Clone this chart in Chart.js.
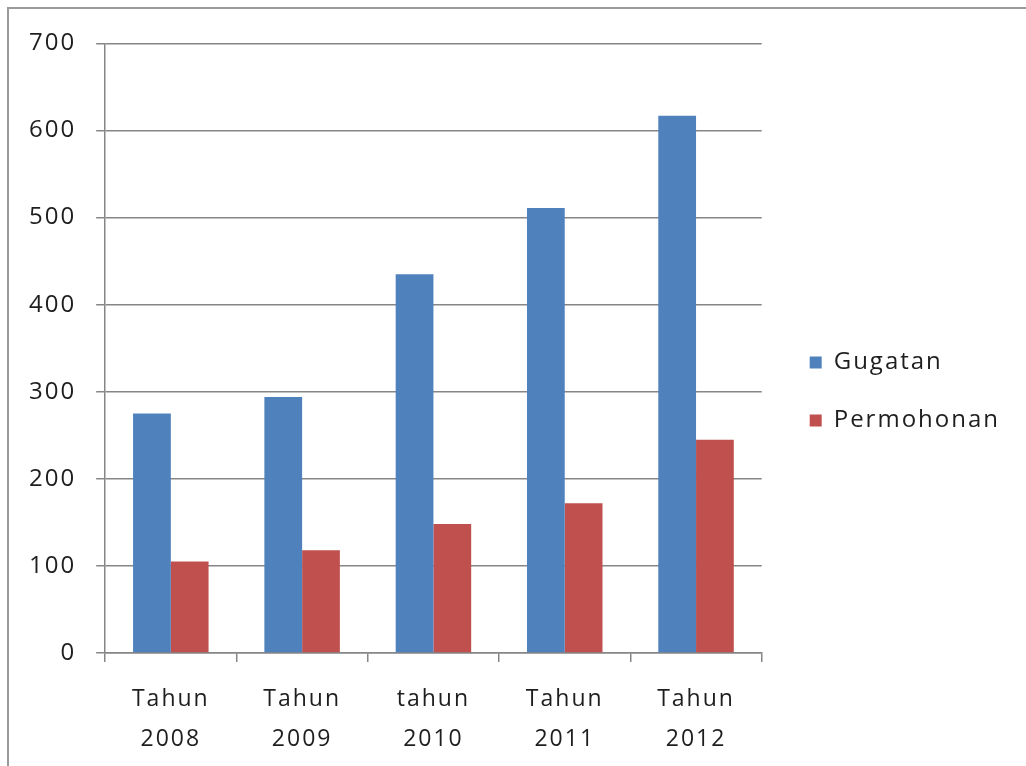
<!DOCTYPE html>
<html>
<head>
<meta charset="utf-8">
<script src="https://cdn.jsdelivr.net/npm/chart.js@4/dist/chart.umd.min.js"></script>
<style>
  html, body { margin: 0; padding: 0; background: #fff; overflow: hidden; }
  #frame {
    position: absolute; left: 7px; top: 7px;
    width: 1030px; height: 770px;
    border-left: 2px solid #9a9a9a; border-top: 2px solid #9a9a9a;
  }
  #wrap { position: absolute; left: 0; top: 0; width: 1017px; height: 757px; }
</style>
</head>
<body>
<div id="frame">
  <div id="wrap"><canvas id="chart"></canvas></div>
</div>
<script>
// data
const categories = [['Tahun', '2008'], ['Tahun', '2009'], ['tahun', '2010'], ['Tahun', '2011'], ['Tahun', '2012']];
const gugatan = [275, 294, 435, 511, 617];
const permohonan = [105, 118, 148, 172, 245];
const yTicks = [0, 100, 200, 300, 400, 500, 600, 700];

const FONT = '"Open Sans", sans-serif';

// the original text is letter-spaced
const spacing = {
    id: 'spacing',
    beforeLayout(chart) { chart.ctx.letterSpacing = '2px'; },
    beforeDraw(chart) { chart.ctx.letterSpacing = '2px'; }
};

const ctx = document.getElementById('chart').getContext('2d');
new Chart(ctx, {
    type: 'bar',
    data: {
        labels: categories,
        datasets: [
            { label: 'Gugatan', data: gugatan, backgroundColor: '#4f81bd' },
            { label: 'Permohonan', data: permohonan, backgroundColor: '#c0504d' }
        ]
    },
    plugins: [spacing],
    options: {
        responsive: true,
        maintainAspectRatio: false,
        animation: false,
        datasets: { bar: { categoryPercentage: 0.575, barPercentage: 1 } },
        layout: { padding: { left: 0, top: 26, right: 16, bottom: 18 } },
        plugins: {
            tooltip: { enabled: false },
            legend: {
                position: 'right',
                maxWidth: 300,
                labels: {
                    boxWidth: 12, boxHeight: 12,
                    padding: 34,
                    color: '#1e1e1e',
                    font: { family: FONT, size: 24 }
                }
            }
        },
        scales: {
            x: {
                afterFit: (scale) => { scale.height = 95; },
                grid: { drawOnChartArea: false, offset: true, color: '#868686', lineWidth: 1.5, tickLength: 9 },
                border: { color: '#868686', width: 1.5 },
                ticks: {
                    color: '#1e1e1e', padding: 17,
                    maxRotation: 0, autoSkip: false,
                    font: { family: FONT, size: 23, lineHeight: 1.74 }
                }
            },
            y: {
                min: 0, max: 700,
                afterBuildTicks: (axis) => { axis.ticks = yTicks.map(v => ({ value: v })); },
                grid: { color: '#868686', lineWidth: 1.5, tickLength: 9 },
                border: { color: '#868686', width: 1.5 },
                ticks: {
                    color: '#1e1e1e', padding: 20,
                    font: { family: FONT, size: 24 }
                }
            },
            // empty spacer between plot and legend
            gap: {
                type: 'linear', position: 'right',
                afterFit: (scale) => { scale.width = 14; },
                grid: { display: false },
                border: { display: false },
                ticks: { display: false }
            }
        }
    }
});
</script>
</body>
</html>
